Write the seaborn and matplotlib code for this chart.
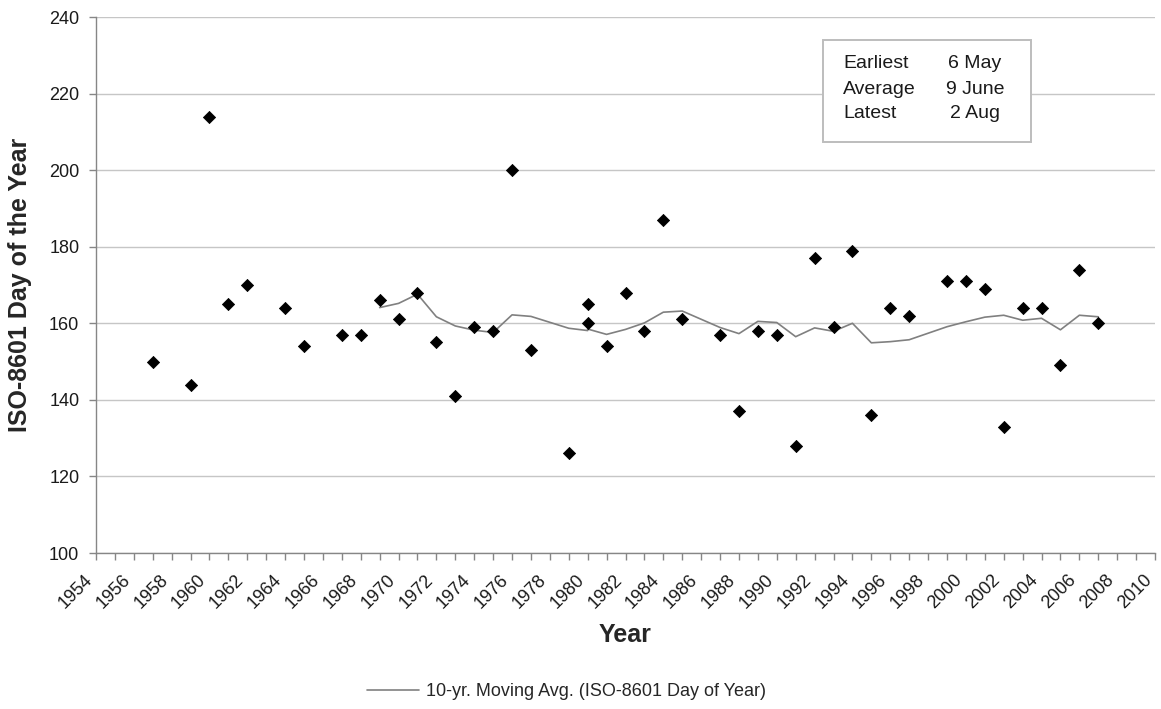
import matplotlib
matplotlib.use("Agg")
import matplotlib.pyplot as plt
import matplotlib.patches as mpatches
from matplotlib.ticker import MultipleLocator
import seaborn as sns

# ---- data ----
years = [1957, 1959, 1960, 1961, 1962, 1964, 1965, 1967, 1968, 1969,
         1970, 1971, 1972, 1973, 1974, 1975, 1976, 1977, 1979, 1980,
         1980, 1981, 1982, 1983, 1984, 1985, 1987, 1988, 1989, 1990,
         1991, 1992, 1993, 1994, 1995, 1996, 1997, 1999, 2000, 2001,
         2002, 2003, 2004, 2005, 2006, 2007]
day_of_year = [150, 144, 214, 165, 170, 164, 154, 157, 157, 166,
               161, 168, 155, 141, 159, 158, 200, 153, 126, 160,
               165, 154, 168, 158, 187, 161, 157, 137, 158, 157,
               128, 177, 159, 179, 136, 164, 162, 171, 171, 169,
               133, 164, 164, 149, 174, 160]

ma_years = [1969, 1970, 1971, 1972, 1973, 1974, 1975, 1976, 1977, 1979,
            1980, 1980, 1981, 1982, 1983, 1984, 1985, 1987, 1988, 1989,
            1990, 1991, 1992, 1993, 1994, 1995, 1996, 1997, 1999, 2000,
            2001, 2002, 2003, 2004, 2005, 2006, 2007]
ma_values = [164.1, 165.2, 167.6, 161.7, 159.3, 158.2, 157.6, 162.2, 161.8, 158.7,
             158.1, 158.5, 157.1, 158.4, 160.1, 162.9, 163.2, 158.9, 157.3, 160.5,
             160.2, 156.5, 158.8, 157.9, 160.0, 154.9, 155.2, 155.7, 159.1, 160.4,
             161.6, 162.1, 160.8, 161.3, 158.3, 162.1, 161.7]

box_labels = ["Earliest", "Average", "Latest"]
box_values = ["6 May", "9 June", "2 Aug"]

sns.set_theme(style="white")
plt.rcParams['font.family'] = ['Liberation Sans', 'DejaVu Sans']

W, H = 1161, 709
fig = plt.figure(figsize=(W / 100, H / 100), dpi=100)
ax = fig.add_axes([96 / W, 1 - 553 / H, (1155 - 96) / W, (553 - 17) / H])

ax.set_xlim(1954, 2010)
ax.set_ylim(100, 240)
ax.yaxis.set_major_locator(MultipleLocator(20))
ax.xaxis.set_major_locator(MultipleLocator(2))
ax.xaxis.set_minor_locator(MultipleLocator(1))
ax.grid(axis='y', color='#c6c6c6', linewidth=1)
ax.grid(axis='x', visible=False)
ax.set_axisbelow(True)

sns.lineplot(x=ma_years, y=ma_values, estimator=None, sort=False, ax=ax,
             color='#808080', linewidth=1.2,
             label='10-yr. Moving Avg. (ISO-8601 Day of Year)', legend=False)
sns.scatterplot(x=years, y=day_of_year, marker='D', s=38, color='black',
                edgecolor='black', linewidth=0.6, ax=ax, legend=False, zorder=3)

for side in ['top', 'right']:
    ax.spines[side].set_visible(False)
for side in ['left', 'bottom']:
    ax.spines[side].set_color('#868686')
    ax.spines[side].set_linewidth(1)

ax.tick_params(axis='both', which='both', direction='out', color='#868686',
               labelcolor='#1a1a1a', labelsize=13)
ax.tick_params(axis='x', which='both', length=5, width=1, bottom=True)
ax.tick_params(axis='y', which='major', length=5, width=1, left=True, pad=7)
ax.tick_params(axis='x', which='major', pad=17)
for lbl in ax.get_xticklabels():
    lbl.set_rotation(45)
    lbl.set_ha('right')
    lbl.set_va('bottom')
    lbl.set_rotation_mode('anchor')

ax.set_xlabel('Year', fontsize=18, fontweight='bold', labelpad=8)
ax.set_ylabel('ISO-8601 Day of the Year', fontsize=18, fontweight='bold', labelpad=12)

# legend at bottom
handles, labels = ax.get_legend_handles_labels()
fig.legend(handles, labels, loc='center left', bbox_to_anchor=(367 / W, 1 - 692 / H),
           frameon=False, fontsize=13, handlelength=2.9, handletextpad=0.35,
           borderpad=0, borderaxespad=0)

# info box
rect = mpatches.Rectangle((823 / W, 1 - 142 / H), (1031 - 823) / W, (142 - 40) / H,
                          transform=fig.transFigure, facecolor='white',
                          edgecolor='#bdbdbd', linewidth=1.4, zorder=5)
fig.add_artist(rect)
for i, (lab, val) in enumerate(zip(box_labels, box_values)):
    yy = 1 - (64 + 25 * i) / H
    fig.text(843 / W, yy, lab, fontsize=14, ha='left', va='center', zorder=6,
             color='#1a1a1a')
    fig.text(975 / W, yy, val, fontsize=14, ha='center', va='center', zorder=6,
             color='#1a1a1a')

fig.savefig('out.png', dpi=100)
